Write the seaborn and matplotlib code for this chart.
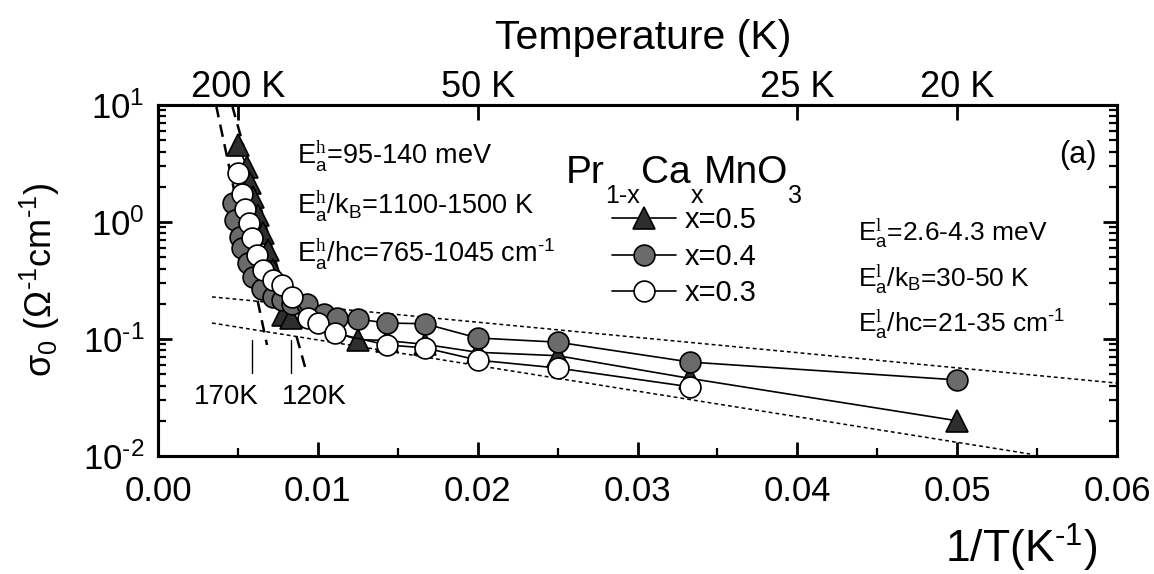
import numpy as np
import pandas as pd
import matplotlib
matplotlib.use("Agg")
import matplotlib.pyplot as plt
import seaborn as sns
from matplotlib.ticker import FixedLocator, LogLocator, NullFormatter, MultipleLocator, FuncFormatter

# ---------------- data ----------------
inv_T_x05 = [0.00500, 0.00557, 0.00576, 0.00594, 0.00626, 0.00657, 0.00688, 0.00720,
             0.00751, 0.00782, 0.00830, 0.0125, 0.0143, 0.0167, 0.0200, 0.0250, 0.0333, 0.0500]
sigma_x05 = [4.55, 2.95, 2.15, 1.64, 1.15, 0.80, 0.58, 0.39,
             0.27, 0.16, 0.15, 0.099, 0.097, 0.090, 0.077, 0.072, 0.046, 0.020]

inv_T_x04 = [0.00469, 0.00482, 0.00510, 0.00526, 0.00560, 0.00594, 0.00650, 0.00720,
             0.00776, 0.00840, 0.00932, 0.0104, 0.0112, 0.0125, 0.0143, 0.0167, 0.0200,
             0.0250, 0.0333, 0.0500]
sigma_x04 = [1.45, 1.05, 0.75, 0.60, 0.45, 0.34, 0.27, 0.23,
             0.215, 0.20, 0.20, 0.165, 0.151, 0.148, 0.137, 0.135, 0.102,
             0.094, 0.0635, 0.0447]

inv_T_x03 = [0.00500, 0.00526, 0.00544, 0.00570, 0.00588, 0.00620, 0.00657, 0.00720,
             0.00776, 0.00840, 0.00940, 0.01000, 0.01110, 0.01430, 0.01670, 0.02000,
             0.02500, 0.03330]
sigma_x03 = [2.6, 1.75, 1.3, 0.98, 0.73, 0.52, 0.39, 0.32,
             0.29, 0.23, 0.152, 0.137, 0.112, 0.089, 0.084, 0.066,
             0.0565, 0.039]

series_labels = ["x=0.5", "x=0.4", "x=0.3"]

# guide lines (end points)
steep_fit_1 = ([0.00363, 0.00682], [10.0, 0.089])
steep_fit_2 = ([0.00463, 0.00920], [10.0, 0.0577])
flat_fit_upper = ([0.00338, 0.0600], [0.229, 0.042])
flat_fit_lower = ([0.00338, 0.05456], [0.137, 0.0104])

marker_T = [170, 120]
marker_labels = ["170K", "120K"]

top_T = [200, 50, 25, 20]
top_labels = ["200 K", "50 K", "25 K", "20 K"]

formula_parts = [("Pr", False), ("1-x", True), ("Ca", False), ("x", True),
                 ("MnO", False), ("3", True)]

# ---------------- style ----------------
sns.set_theme(style="ticks")
plt.rcParams["font.family"] = ["Liberation Sans", "DejaVu Sans"]
plt.rcParams["mathtext.fontset"] = "custom"
plt.rcParams["mathtext.rm"] = "Liberation Sans"
plt.rcParams["mathtext.sf"] = "Liberation Sans"
plt.rcParams["mathtext.tt"] = "Liberation Serif"
plt.rcParams["mathtext.it"] = "Liberation Sans:italic"
plt.rcParams["mathtext.default"] = "regular"
for k in ["text.color", "axes.labelcolor", "xtick.color", "ytick.color", "axes.edgecolor"]:
    plt.rcParams[k] = "black"

W, H = 1154, 574
fig = plt.figure(figsize=(W / 100, H / 100), dpi=100)
L, R, T_, B = 158, 1117, 105, 456
ax = fig.add_axes([L / W, 1 - B / H, (R - L) / W, (B - T_) / H])

def fx(px):
    return px / W

def fy(py):
    return 1 - py / H

# guide lines
ax.plot(*steep_fit_1, color="black", lw=1.8, dashes=(5, 3), zorder=2)
ax.plot(*steep_fit_2, color="black", lw=1.8, dashes=(5, 3), zorder=2)
ax.plot(*flat_fit_upper, color="black", lw=1.1, dashes=(2.5, 2), zorder=2)
ax.plot(*flat_fit_lower, color="black", lw=1.1, dashes=(2.5, 2), zorder=2)

# data series
df05 = pd.DataFrame({"invT": inv_T_x05, "sigma": sigma_x05})
df04 = pd.DataFrame({"invT": inv_T_x04, "sigma": sigma_x04})
df03 = pd.DataFrame({"invT": inv_T_x03, "sigma": sigma_x03})

ms = 15
sns.lineplot(data=df05, x="invT", y="sigma", ax=ax, sort=False, estimator=None,
             color="black", lw=1.2, marker="^", markersize=ms + 1,
             markerfacecolor="#2e2e2e", markeredgecolor="black", markeredgewidth=1.2,
             label=series_labels[0], zorder=3)
sns.lineplot(data=df04, x="invT", y="sigma", ax=ax, sort=False, estimator=None,
             color="black", lw=1.2, marker="o", markersize=ms,
             markerfacecolor="#6b6b6b", markeredgecolor="black", markeredgewidth=1.2,
             label=series_labels[1], zorder=4)
sns.lineplot(data=df03, x="invT", y="sigma", ax=ax, sort=False, estimator=None,
             color="black", lw=1.2, marker="o", markersize=ms,
             markerfacecolor="white", markeredgecolor="black", markeredgewidth=1.2,
             label=series_labels[2], zorder=5)

# temperature markers
for Tm in marker_T:
    ax.plot([1 / Tm, 1 / Tm], [0.098, 0.051], color="black", lw=1.0, zorder=2)

fig.text(fx(226), fy(397), marker_labels[0], fontsize=20, ha="center", va="center")
fig.text(fx(314), fy(397), marker_labels[1], fontsize=20, ha="center", va="center")

# axes settings
ax.set_yscale("log")
ax.set_xlim(0, 0.06)
ax.set_ylim(1e-2, 1e1)
ax.xaxis.set_major_locator(MultipleLocator(0.01))
ax.xaxis.set_minor_locator(MultipleLocator(0.005))
ax.xaxis.set_major_formatter(FuncFormatter(lambda v, p: f"{v:.2f}"))
ax.yaxis.set_major_locator(LogLocator(base=10, numticks=10))
ax.yaxis.set_minor_locator(LogLocator(base=10, subs=np.arange(2, 10), numticks=20))
ax.yaxis.set_minor_formatter(NullFormatter())
ax.yaxis.set_major_formatter(FuncFormatter(
    lambda v, p: r"10$^{\text{%d}}$" % int(round(np.log10(v)))))
ax.tick_params(axis="both", which="major", direction="in", length=10, width=2,
               labelsize=25)
ax.tick_params(axis="x", which="major", pad=14)
ax.tick_params(axis="y", which="major", pad=10)
ax.tick_params(axis="both", which="minor", direction="in", length=5.5, width=1.6)
ax.tick_params(axis="x", which="both", top=False, bottom=True)
ax.tick_params(axis="y", which="both", left=True, right=True)
for s in ax.spines.values():
    s.set_linewidth(2.2)
    s.set_color("black")

ax.set_xlabel("")
ax.set_ylabel("")

# top axis
ax2 = ax.twiny()
ax2.set_xlim(ax.get_xlim())
ax2.xaxis.set_major_locator(FixedLocator([1 / t for t in top_T]))
ax2.set_xticklabels(top_labels)
ax2.tick_params(axis="x", which="major", direction="in", length=11, width=2,
                labelsize=26, pad=0)
for s in ax2.spines.values():
    s.set_linewidth(2.2)

# labels
fig.text(fx(643), fy(38), "Temperature (K)", fontsize=29.5, ha="center", va="center")
fig.text(fx(1097), fy(548), r"1/T(K$^{\text{-1}}$)", fontsize=32, ha="right", va="center")
fig.text(fx(40), fy(280), r"$\sigma_{\text{0}}$ ($\Omega^{\text{-1}}$cm$^{\text{-1}}$)",
         fontsize=26, rotation=90, ha="center", va="center")

# annotations
left_lines = [r"E$^{\mathtt{h}}_{\text{a}}$=95-140 meV",
              r"E$^{\mathtt{h}}_{\text{a}}$/k$_{\text{B}}$=1100-1500 K",
              r"E$^{\mathtt{h}}_{\text{a}}$/hc=765-1045 cm$^{\text{-1}}$"]
for i, t in enumerate(left_lines):
    fig.text(fx(297), fy(165 + 49 * i), t, fontsize=19.5, ha="left", va="baseline")

right_lines = [r"E$^{\mathtt{l}}_{\text{a}}$=2.6-4.3 meV",
               r"E$^{\mathtt{l}}_{\text{a}}$/k$_{\text{B}}$=30-50 K",
               r"E$^{\mathtt{l}}_{\text{a}}$/hc=21-35 cm$^{\text{-1}}$"]
for i, t in enumerate(right_lines):
    fig.text(fx(858), fy(241 + 46 * i), t, fontsize=19, ha="left", va="baseline")

fig.text(fx(1097), fy(155), "(a)", fontsize=22, ha="right", va="center")

# chemical formula with deep subscripts, laid out piece by piece
renderer = fig.canvas.get_renderer()
xpos = 566
for txt, is_sub in formula_parts:
    size = 18 if is_sub else 28
    base = 203 if is_sub else 183
    t = fig.text(fx(xpos), fy(base), txt, fontsize=size, ha="left", va="baseline")
    xpos += t.get_window_extent(renderer).width + (1 if is_sub else 0)

# legend
leg = ax.legend(loc="upper left", bbox_to_anchor=(fx(612), fy(206)),
                bbox_transform=fig.transFigure, frameon=False, fontsize=21,
                handlelength=2.2, handletextpad=0.3, labelspacing=0.3,
                borderpad=0, borderaxespad=0, markerscale=1.0)

fig.savefig("out.png", dpi=100)
